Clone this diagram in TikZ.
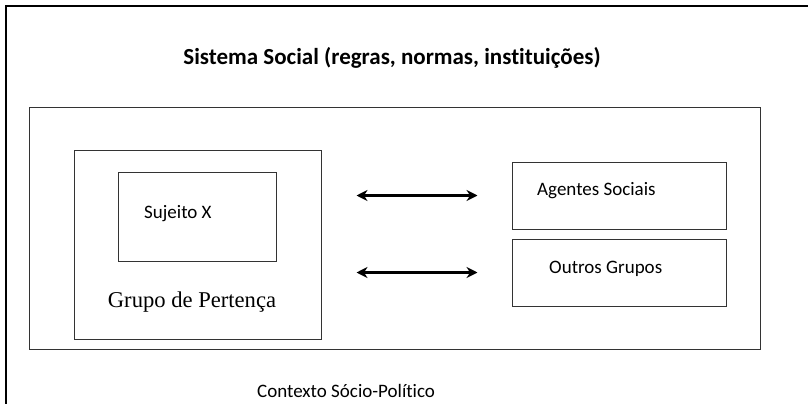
\documentclass[tikz,border=0pt]{standalone}
\usepackage{fontspec}
\setmainfont{Carlito}[Ligatures=NoCommon]
\newfontfamily\timesfont{Liberation Serif}
\usetikzlibrary{arrows.meta}
\tikzset{
  box/.style={draw=black!80, line width=1pt, minimum width=#1, inner sep=0pt},
  txt/.style={inner sep=0pt, font=\fontsize{19}{22}\selectfont},
  arr/.style={{Stealth[length=11pt,width=11pt]}-{Stealth[length=11pt,width=11pt]}, line width=2.4pt},
}
\begin{document}
\begin{tikzpicture}[x=1pt,y=-1pt]
\useasboundingbox (0,0) rectangle (808,404);
\fill[white] (0,0) rectangle (808,404);
% outer frame (continues beyond the picture)
\coordinate (fbl) at (6,404);
\coordinate (ftl) at (6,6);
\coordinate (ftr) at (808,6);
\draw[line width=1.3pt] (fbl) -- (ftl) -- (ftr);
% boxes
\node[box=731pt, minimum height=242pt] (sist) at (394.5,228) {};
\node[box=247pt, minimum height=189pt] (grupo) at (197.5,244.5) {};
\node[box=158pt, minimum height=89pt] (suj) at (197,216.5) {};
\node[box=214pt, minimum height=67pt] (agen) at (619,195.5) {};
\node[box=214pt, minimum height=67pt] (outr) at (619,272.5) {};
% texts
\node[txt, font=\bfseries\fontsize{23}{26}\selectfont] (title) at (392,58) {Sistema Social (regras, normas, instituições)};
\node[txt, anchor=west] (ctx) at (257,391) {Contexto Sócio-Político};
\node[txt, anchor=west] (sujt) at (144,214) {Sujeito X};
\node[txt, font=\timesfont\fontsize{22.6}{26}\selectfont] (grpt) at (192,302) {Grupo de Pertença};
\node[txt, anchor=west] (agt) at (537,191) {Agentes Sociais};
\node[txt, anchor=west] (outt) at (549,269) {Outros Grupos};
% arrows
\draw[arr, shorten <=35pt, shorten >=34pt] (grupo.east |- agen.west) -- (agen.west);
\draw[arr, shorten <=35pt, shorten >=34pt] (grupo.east |- outr.west) -- (outr.west);
\end{tikzpicture}
\end{document}
